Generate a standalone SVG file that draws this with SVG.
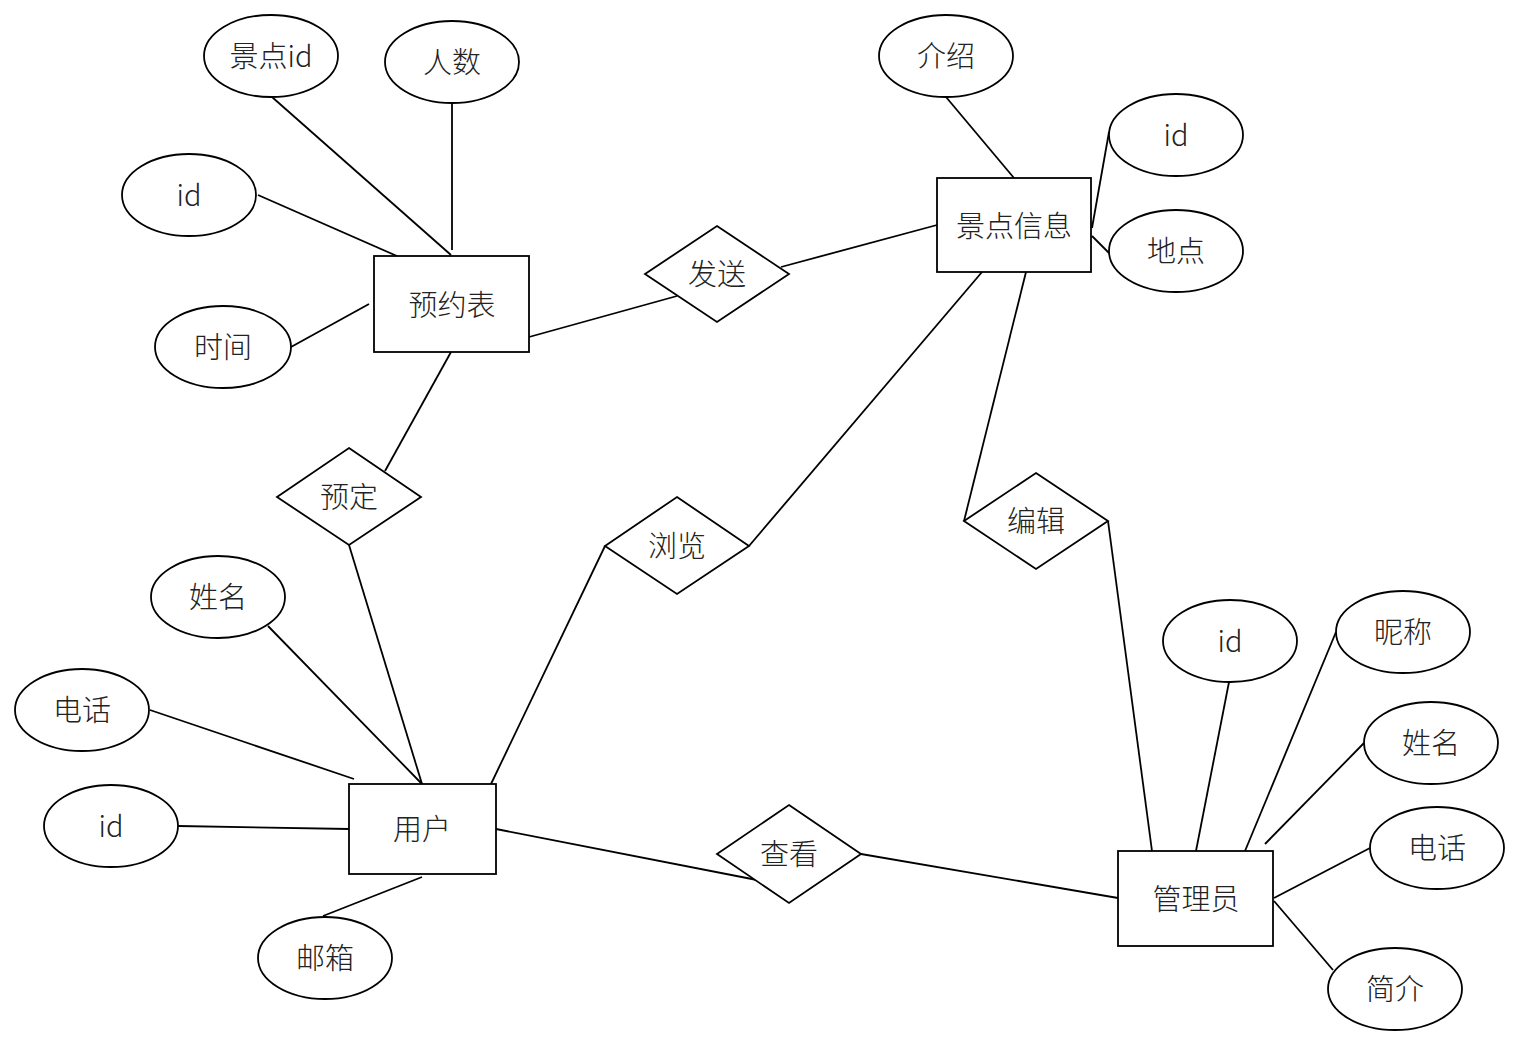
<svg xmlns="http://www.w3.org/2000/svg" width="1520" height="1045" viewBox="0 0 1520 1045">
<style>
.s{fill:#fff;stroke:#000;stroke-width:1.8}
.l{stroke:#000;stroke-width:1.8;fill:none}
text{font-family:"Noto Sans CJK SC","Noto Sans",sans-serif;font-size:29px;font-weight:300;fill:#222;text-anchor:middle;dominant-baseline:central}
</style>
<rect width="1520" height="1045" fill="#fff"/>
<g id="connectors">
<line class="l" x1="272" y1="97" x2="451" y2="255"/>
<line class="l" x1="452" y1="103" x2="452" y2="250"/>
<line class="l" x1="258" y1="195" x2="397" y2="256"/>
<line class="l" x1="291" y1="347" x2="369" y2="304"/>
<line class="l" x1="451" y1="352" x2="385" y2="471"/>
<line class="l" x1="529" y1="337" x2="677" y2="296"/>
<line class="l" x1="781" y1="267" x2="937" y2="225"/>
<line class="l" x1="946" y1="97" x2="1014" y2="178"/>
<line class="l" x1="1109" y1="132" x2="1092" y2="228"/>
<line class="l" x1="1092" y1="236" x2="1109" y2="253"/>
<line class="l" x1="982" y1="272" x2="749" y2="546"/>
<line class="l" x1="1026" y1="272" x2="964" y2="521"/>
<line class="l" x1="1108" y1="521" x2="1152" y2="851"/>
<line class="l" x1="605" y1="546" x2="491" y2="784"/>
<line class="l" x1="349" y1="545" x2="422" y2="784"/>
<line class="l" x1="268" y1="626" x2="422" y2="784"/>
<line class="l" x1="150" y1="710" x2="354" y2="779"/>
<line class="l" x1="178" y1="826" x2="349" y2="829"/>
<line class="l" x1="323" y1="916" x2="422" y2="877"/>
<line class="l" x1="496" y1="829" x2="757" y2="880"/>
<line class="l" x1="861" y1="854" x2="1118" y2="898"/>
<line class="l" x1="1229" y1="682" x2="1196" y2="851"/>
<line class="l" x1="1336" y1="632" x2="1245" y2="851"/>
<line class="l" x1="1364" y1="743" x2="1265" y2="844"/>
<line class="l" x1="1370" y1="848" x2="1274" y2="898"/>
<line class="l" x1="1333" y1="970" x2="1274" y2="901"/>
</g>
<g id="n-yuyue"><rect class="s" x="374" y="256" width="155" height="96"/><text x="452" y="303">预约表</text></g>
<g id="n-jingdian"><rect class="s" x="937" y="178" width="154" height="94"/><text x="1014" y="224">景点信息</text></g>
<g id="n-user"><rect class="s" x="349" y="784" width="147" height="90"/><text x="422" y="827">用户</text></g>
<g id="n-admin"><rect class="s" x="1118" y="851" width="155" height="95"/><text x="1196" y="897">管理员</text></g>
<g id="r-fasong"><polygon class="s" points="717,226 789,274 717,322 645,274"/><text x="717" y="272">发送</text></g>
<g id="r-yuding"><polygon class="s" points="349,448 421,497 349,545 277,497"/><text x="349" y="495">预定</text></g>
<g id="r-liulan"><polygon class="s" points="677,497 749,546 677,594 605,546"/><text x="677" y="544">浏览</text></g>
<g id="r-bianji"><polygon class="s" points="1036,473 1108,521 1036,569 964,521"/><text x="1036" y="519">编辑</text></g>
<g id="r-chakan"><polygon class="s" points="789,805 861,854 789,903 717,854"/><text x="789" y="852">查看</text></g>
<g id="a-jdid"><ellipse class="s" cx="271" cy="56" rx="67" ry="41"/><text x="271" y="54">景点id</text></g>
<g id="a-renshu"><ellipse class="s" cx="452" cy="62" rx="67" ry="41"/><text x="452" y="60">人数</text></g>
<g id="a-yid"><ellipse class="s" cx="189" cy="195" rx="67" ry="41"/><text x="189" y="193">id</text></g>
<g id="a-shijian"><ellipse class="s" cx="223" cy="347" rx="68" ry="41"/><text x="223" y="345">时间</text></g>
<g id="a-jieshao"><ellipse class="s" cx="946" cy="56" rx="67" ry="41"/><text x="946" y="54">介绍</text></g>
<g id="a-jid"><ellipse class="s" cx="1176" cy="135" rx="67" ry="41"/><text x="1176" y="133">id</text></g>
<g id="a-didian"><ellipse class="s" cx="1176" cy="251" rx="67" ry="41"/><text x="1176" y="249">地点</text></g>
<g id="a-uname"><ellipse class="s" cx="218" cy="597" rx="67" ry="41"/><text x="218" y="595">姓名</text></g>
<g id="a-uphone"><ellipse class="s" cx="82" cy="710" rx="67" ry="41"/><text x="82" y="708">电话</text></g>
<g id="a-uid"><ellipse class="s" cx="111" cy="826" rx="67" ry="41"/><text x="111" y="824">id</text></g>
<g id="a-email"><ellipse class="s" cx="325" cy="958" rx="67" ry="41"/><text x="325" y="956">邮箱</text></g>
<g id="a-aid"><ellipse class="s" cx="1230" cy="641" rx="67" ry="41"/><text x="1230" y="639">id</text></g>
<g id="a-nick"><ellipse class="s" cx="1403" cy="632" rx="67" ry="41"/><text x="1403" y="630">昵称</text></g>
<g id="a-aname"><ellipse class="s" cx="1431" cy="743" rx="67" ry="41"/><text x="1431" y="741">姓名</text></g>
<g id="a-aphone"><ellipse class="s" cx="1437" cy="848" rx="67" ry="41"/><text x="1437" y="846">电话</text></g>
<g id="a-intro"><ellipse class="s" cx="1395" cy="989" rx="67" ry="41"/><text x="1395" y="987">简介</text></g>
</svg>
